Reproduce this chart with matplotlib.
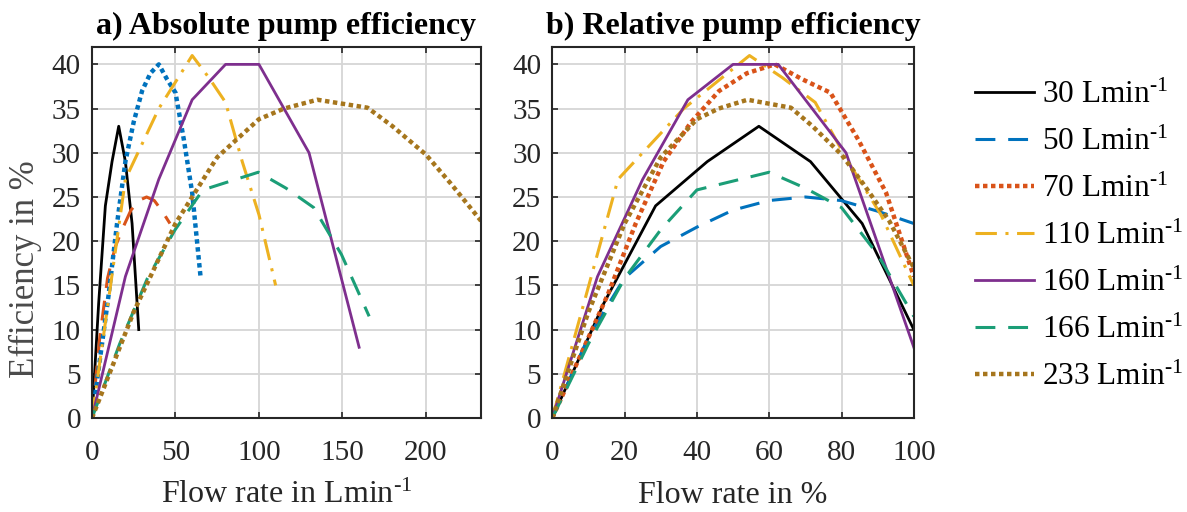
import matplotlib
matplotlib.use("Agg")
import matplotlib.pyplot as plt

plt.rcParams['font.family'] = ['Liberation Serif', 'DejaVu Serif']
plt.rcParams['mathtext.fontset'] = 'custom'
plt.rcParams['mathtext.rm'] = 'Liberation Serif'
plt.rcParams['mathtext.it'] = 'Liberation Serif:italic'
plt.rcParams['mathtext.bf'] = 'Liberation Serif:bold'

# pump nominal flow rates (legend)
pumps = [30, 50, 70, 110, 160, 166, 233]

# measured flow rate (L/min) and efficiency (%) per pump
flow_30 = [0, 4, 8, 12, 16, 20, 24, 28]
eff_30 = [0, 13, 24, 29, 33, 29, 22, 10]

flow_50 = [0, 4.7, 9.3, 14, 18.7, 23.3, 28, 32.7, 37.3, 42, 46.7]
eff_50 = [0, 9.2, 15.8, 19.4, 21.6, 23.5, 24.6, 25, 24.6, 23.4, 22]

flow_70 = [0, 5, 10, 15, 20, 25, 30, 35, 40, 45, 50, 55, 60, 65]
eff_70 = [0, 7, 14, 22, 29, 33.5, 37, 39, 40, 38.3, 36.8, 31.5, 25.5, 16]

flow_110 = [0, 10, 20, 30, 40, 50, 60, 70, 80, 90, 100, 110]
eff_110 = [0, 13.5, 27, 31, 35, 38, 41, 38.5, 35.7, 29, 23, 15]

flow_160 = [0, 20, 40, 60, 80, 100, 130, 160]
eff_160 = [0, 16, 27, 36, 40, 40, 30, 8]

flow_166 = [0, 16.6, 33.2, 49.8, 66.4, 83, 99.6, 116.2, 132.8, 149.4, 166]
eff_166 = [0, 8.4, 15.8, 21.3, 25.8, 26.8, 27.8, 26, 23.8, 18.5, 11.5]

flow_233 = [0, 25, 50, 75, 100, 115, 135, 165, 180, 200, 215, 233, 250]
eff_233 = [0, 12, 22, 29.5, 33.8, 35, 36, 35.1, 33, 29.8, 26.5, 22.3, 17]

flows = [flow_30, flow_50, flow_70, flow_110, flow_160, flow_166, flow_233]
effs = [eff_30, eff_50, eff_70, eff_110, eff_160, eff_166, eff_233]

colors = ['black', '#0072BD', '#D95319', '#EDB120', '#7E2F8E', '#1B9E77', '#A6761D']
# in panel a) the colours of the 50 and 70 curves are swapped
colors_abs = ['black', '#D95319', '#0072BD', '#EDB120', '#7E2F8E', '#1B9E77', '#A6761D']

solid = dict(linestyle='-', linewidth=2.0)
dashed = dict(linestyle=(0, (6.5, 4.2)), linewidth=2.2)
dotted = dict(linestyle=(0, (1, 0.8)), linewidth=3.2, dash_capstyle='butt')
dashdot = dict(linestyle=(0, (7, 2.8, 1, 2.8)), linewidth=2.2)
styles = [solid, dashed, dotted, dashdot, solid, dashed, dotted]

fig = plt.figure(figsize=(11.87, 5.12), dpi=100)
ax1 = fig.add_axes([92 / 1187, 94 / 512, 389 / 1187, 371.3 / 512])
ax2 = fig.add_axes([552.3 / 1187, 94 / 512, 361.5 / 1187, 371.3 / 512])

dark = '#262626'
handles = []
for i, p in enumerate(pumps):
    ax1.plot(flows[i], effs[i], color=colors_abs[i], **styles[i])
    rel = [f / flows[i][-1] * 100 for f in flows[i]]
    h, = ax2.plot(rel, effs[i], color=colors[i], label=r'%d Lmin$^{\text{-1}}$' % p, **styles[i])
    handles.append(h)

for ax in (ax1, ax2):
    ax.set_ylim(0, 42)
    ax.set_yticks(range(0, 45, 5))
    ax.grid(True, color='#d6d6d6', linewidth=1.3)
    ax.set_axisbelow(True)
    ax.tick_params(direction='in', top=True, right=True, length=4, width=1.2,
                   labelsize=21, colors=dark)
    ax.tick_params(axis='x', pad=16)
    ax.tick_params(axis='y', pad=8)
    for s in ax.spines.values():
        s.set_color(dark)
        s.set_linewidth(1.5)

ax1.set_xlim(0, 233)
ax1.set_xticks([0, 50, 100, 150, 200])
ax2.set_xlim(0, 100)
ax2.set_xticks([0, 20, 40, 60, 80, 100])

ax1.set_title('a) Absolute pump efficiency', fontsize=23, fontweight='bold', pad=9)
ax2.set_title('b) Relative pump efficiency', fontsize=23, fontweight='bold', pad=9)

ax1.set_ylabel('Efficiency in %', fontsize=25, color='#4a4a4a', va='center')
ax1.yaxis.set_label_coords(-0.172, 0.40)
ax1.set_xlabel(r'Flow rate in Lmin$^{\text{-1}}$', fontsize=23, color=dark, va='baseline')
ax1.xaxis.set_label_coords(0.5, -0.228)
ax2.set_xlabel('Flow rate in %', fontsize=23, color=dark, va='baseline')
ax2.xaxis.set_label_coords(0.5, -0.228)

fig.legend(handles=handles, loc='upper left', bbox_to_anchor=(962 / 1187, 1 - 68 / 512),
           frameon=False, fontsize=22.5, labelspacing=0.57, handlelength=1.9,
           handletextpad=0.25, borderaxespad=0)

fig.savefig('out.png', dpi=100)
